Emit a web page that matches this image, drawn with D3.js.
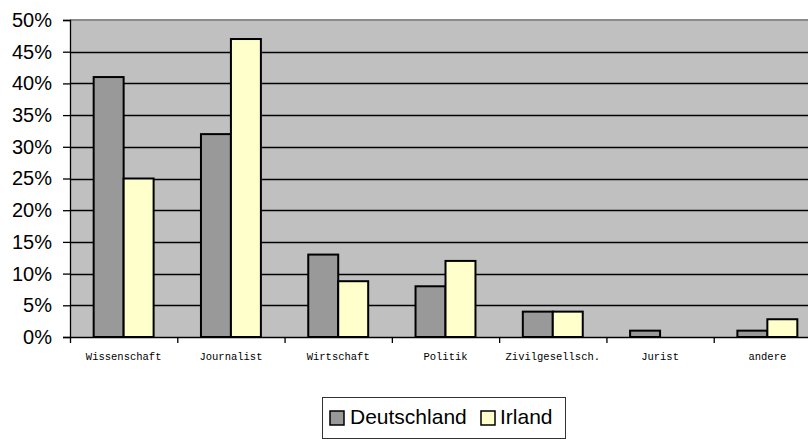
<!DOCTYPE html>
<html>
<head>
<meta charset="utf-8">
<script src="https://cdn.jsdelivr.net/npm/d3@7"></script>
<style>
  html, body { margin: 0; padding: 0; background: #fff; }
  svg { display: block; }
</style>
</head>
<body>
<svg id="chart" width="808" height="439"></svg>
<script>
// Professions of participants, share per country (percent)
const categories = ["Wissenschaft", "Journalist", "Wirtschaft", "Politik", "Zivilgesellsch.", "Jurist", "andere"];
const seriesNames = ["Deutschland", "Irland"];
const deutschland = [41, 32, 13, 8, 4, 1, 1];
const irland = [25, 47, 8.8, 12, 4, 0, 2.8];
const yTicks = [0, 5, 10, 15, 20, 25, 30, 35, 40, 45, 50];
const seriesColors = ["#999999", "#FFFFCC"];

const svg = d3.select("#chart");
const plot = { left: 70, top: 20, right: 821, bottom: 337 };

const x0 = d3.scaleBand().domain(categories).range([plot.left, plot.right]).paddingInner(0).paddingOuter(0);
const x1 = d3.scaleBand().domain(seriesNames).range([0, x0.bandwidth()]).paddingInner(0).paddingOuter(0.79);
const y = d3.scaleLinear().domain([0, 50]).range([plot.bottom, plot.top]);
const color = d3.scaleOrdinal().domain(seriesNames).range(seriesColors);

// plot background
svg.append("rect")
  .attr("x", plot.left).attr("y", plot.top)
  .attr("width", plot.right - plot.left).attr("height", plot.bottom - plot.top)
  .attr("fill", "#C0C0C0");

// top border of plot area
svg.append("line")
  .attr("x1", plot.left).attr("x2", plot.right)
  .attr("y1", plot.top).attr("y2", plot.top)
  .attr("stroke", "#8a8a8a").attr("stroke-width", 2);

// horizontal gridlines
svg.append("g")
  .selectAll("line")
  .data(yTicks.filter(t => t > 0 && t < 50))
  .join("line")
  .attr("x1", plot.left).attr("x2", plot.right)
  .attr("y1", d => Math.round(y(d)) + 0.5).attr("y2", d => Math.round(y(d)) + 0.5)
  .attr("stroke", "#000").attr("stroke-width", 1.3);

// bars
const rows = categories.map((c, i) => ({ cat: c, values: [
  { key: "Deutschland", value: deutschland[i] },
  { key: "Irland", value: irland[i] }
]}));

const groups = svg.append("g").selectAll("g")
  .data(rows)
  .join("g")
  .attr("transform", d => `translate(${x0(d.cat)},0)`);

groups.selectAll("rect")
  .data(d => d.values.filter(v => v.value > 0))
  .join("rect")
  .attr("x", d => x1(d.key))
  .attr("y", d => y(d.value))
  .attr("width", x1.bandwidth())
  .attr("height", d => y(0) - y(d.value))
  .attr("fill", d => color(d.key))
  .attr("stroke", "#000")
  .attr("stroke-width", 2);

// y axis
const yAxis = d3.axisLeft(y).tickValues(yTicks).tickFormat(d => d + "%").tickSize(7).tickPadding(11);
const yg = svg.append("g").attr("transform", `translate(${plot.left},0)`).call(yAxis);
yg.select(".domain").attr("stroke", "#000").attr("stroke-width", 1.3);
yg.selectAll(".tick line").attr("stroke", "#000").attr("stroke-width", 1.3);
yg.selectAll(".tick text")
  .attr("font-family", "Arial, 'Liberation Sans', sans-serif")
  .attr("font-size", 20).attr("fill", "#000");

// x axis
const xAxis = d3.axisBottom(x0).tickSize(0).tickPadding(0);
const xg = svg.append("g").attr("transform", `translate(0,${plot.bottom})`).call(xAxis);
xg.select(".domain").attr("stroke", "#000").attr("stroke-width", 1.3);
xg.selectAll(".tick text")
  .attr("dy", 0).attr("y", 23)
  .attr("font-family", "'Courier New', 'Liberation Mono', monospace")
  .attr("font-size", 10.5).attr("fill", "#000");

// category separator ticks
svg.append("g")
  .selectAll("line")
  .data(categories)
  .join("line")
  .attr("x1", d => x0(d) + 0.5).attr("x2", d => x0(d) + 0.5)
  .attr("y1", plot.bottom).attr("y2", plot.bottom + 6)
  .attr("stroke", "#000").attr("stroke-width", 1.3);

// legend
const legend = svg.append("g");
legend.append("rect")
  .attr("x", 322.5).attr("y", 397.5).attr("width", 243).attr("height", 41)
  .attr("fill", "#fff").attr("stroke", "#333").attr("stroke-width", 1);

const legendItems = [
  { key: "Deutschland", sx: 330, tx: 350 },
  { key: "Irland", sx: 481, tx: 500 }
];
legendItems.forEach(it => {
  legend.append("rect")
    .attr("x", it.sx).attr("y", 411).attr("width", 14).attr("height", 14)
    .attr("fill", color(it.key)).attr("stroke", "#000").attr("stroke-width", 1.5);
  legend.append("text")
    .attr("x", it.tx).attr("y", 424)
    .attr("font-family", "Arial, 'Liberation Sans', sans-serif")
    .attr("font-size", 21).attr("fill", "#000")
    .text(it.key);
});
</script>
</body>
</html>
